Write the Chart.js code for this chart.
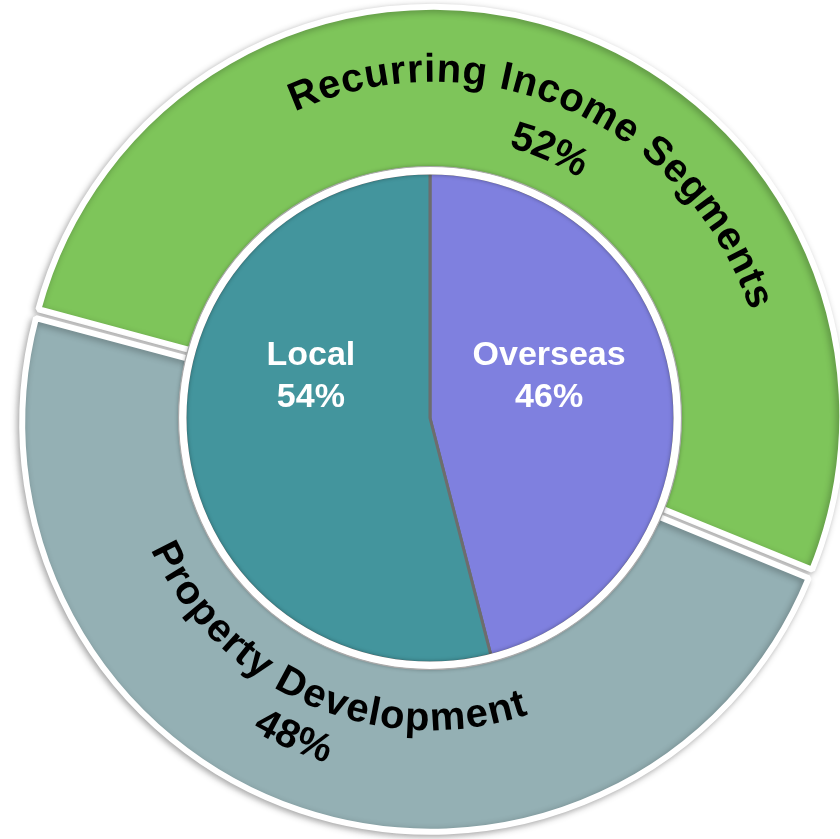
<!DOCTYPE html>
<html>
<head>
<meta charset="utf-8">
<title>Income segments</title>
<script src="https://cdn.jsdelivr.net/npm/chart.js@4.4.1/dist/chart.umd.min.js"></script>
<style>
  html, body { margin: 0; padding: 0; background: #ffffff; }
  #wrap { position: relative; width: 840px; height: 839px; overflow: hidden; }
  #wrap canvas { position: absolute; left: 0; top: 0; }
</style>
</head>
<body>
<div id="wrap">
  <canvas id="outer-chart" width="840" height="839"></canvas>
  <canvas id="inner-chart" width="840" height="839"></canvas>
</div>
<script>
const segmentLabels = ["Recurring Income Segments", "Property Development"];
const segmentValues = [52, 48];
const segmentColors = ["#7ec55a", "#94b0b4"];

const marketLabels = ["Overseas", "Local"];
const marketValues = [46, 54];
const marketColors = ["#7f80df", "#43959d"];

const FONT = '"Liberation Sans", Arial, sans-serif';
const DEG = Math.PI / 180;

function percentOf(values, i) {
  const total = values.reduce((a, b) => a + b, 0);
  return Math.round((values[i] / total) * 100) + "%";
}

// letters laid one by one along a circle; top side reads clockwise, bottom side counter-clockwise
function drawArcText(ctx, text, cx, cy, radius, midAngle, topSide, gap) {
  const chars = [...text];
  const widths = chars.map((ch) => ctx.measureText(ch).width);
  const total = widths.reduce((a, b) => a + b, 0) + gap * (chars.length - 1);
  const dir = topSide ? 1 : -1;
  let angle = midAngle - dir * (total / radius) / 2;

  chars.forEach((ch, i) => {
    angle += dir * (widths[i] / 2) / radius;
    ctx.save();
    ctx.translate(cx + Math.cos(angle) * radius, cy + Math.sin(angle) * radius);
    ctx.rotate(topSide ? angle + Math.PI / 2 : angle - Math.PI / 2);
    ctx.fillText(ch, 0, 0);
    ctx.restore();
    angle += dir * (widths[i] / 2 + gap) / radius;
  });
}

const ringPlugin = {
  id: "ringLabels",
  beforeDatasetsDraw(chart) {
    const { ctx } = chart;
    ctx.save();
    ctx.shadowColor = "rgba(0, 0, 0, 0.3)";
    ctx.shadowBlur = 7;
    ctx.shadowOffsetX = -2;
    ctx.shadowOffsetY = 2;
  },
  afterDatasetsDraw(chart) {
    const { ctx } = chart;
    ctx.restore();

    const meta = chart.getDatasetMeta(0);

    ctx.save();
    ctx.fillStyle = "#000000";
    ctx.font = `bold 40px ${FONT}`;
    ctx.textAlign = "center";
    ctx.textBaseline = "middle";

    meta.data.forEach((arc, i) => {
      const mid = (arc.startAngle + arc.endAngle) / 2;
      const shift = (arc.options.offset || 0) / 4;
      const cx = arc.x + Math.cos(mid) * shift;
      const cy = arc.y + Math.sin(mid) * shift;
      const at = mid + 5 * DEG;
      const r = arc.outerRadius;
      const pct = percentOf(segmentValues, i);

      if (Math.sin(at) < 0) {
        drawArcText(ctx, segmentLabels[i], cx, cy, r - 60, at, true, 1.5);
        drawArcText(ctx, pct, cx, cy, r - 115, at, true, 0);
      } else {
        drawArcText(ctx, segmentLabels[i], cx, cy, r - 109, at, false, 0.5);
        drawArcText(ctx, pct, cx, cy, r - 61, at, false, 0);
      }
    });

    ctx.restore();
  }
};

const piePlugin = {
  id: "pieRim",
  afterDatasetsDraw(chart) {
    const { ctx } = chart;
    const meta = chart.getDatasetMeta(0);
    const first = meta.data[0];
    const cx = first.x;
    const cy = first.y;
    const r = first.outerRadius;

    ctx.save();
    ctx.shadowColor = "rgba(0, 0, 0, 0.35)";
    ctx.shadowBlur = 4;
    ctx.beginPath();
    ctx.arc(cx, cy, r + 2.5, 0, Math.PI * 2);
    ctx.lineWidth = 8;
    ctx.strokeStyle = "#ffffff";
    ctx.stroke();
    ctx.restore();

    ctx.save();
    ctx.beginPath();
    ctx.arc(cx, cy, r + 6.5, 0, Math.PI * 2);
    ctx.lineWidth = 1.2;
    ctx.strokeStyle = "#a9a9a9";
    ctx.stroke();

    ctx.fillStyle = "#ffffff";
    ctx.font = `bold 34px ${FONT}`;
    ctx.textAlign = "center";
    ctx.textBaseline = "alphabetic";

    meta.data.forEach((arc, i) => {
      const mid = (arc.startAngle + arc.endAngle) / 2;
      const x = cx + Math.cos(mid) * r * 0.49;
      ctx.fillText(marketLabels[i], x, cy - 53);
      ctx.fillText(percentOf(marketValues, i), x, cy - 11);
    });

    ctx.restore();
  }
};

const baseOptions = {
  responsive: false,
  animation: false,
  events: [],
  plugins: {
    legend: { display: false },
    tooltip: { enabled: false }
  }
};

new Chart(document.getElementById("outer-chart"), {
  type: "doughnut",
  data: {
    labels: segmentLabels,
    datasets: [
      {
        data: segmentValues,
        backgroundColor: segmentColors,
        borderColor: "#ffffff",
        borderWidth: 6,
        offset: 16
      }
    ]
  },
  options: {
    ...baseOptions,
    layout: { padding: { left: 24, right: 0, top: 0, bottom: 0 } },
    radius: 405,
    cutout: "55%",
    rotation: -75
  },
  plugins: [ringPlugin]
});

new Chart(document.getElementById("inner-chart"), {
  type: "pie",
  data: {
    labels: marketLabels,
    datasets: [
      {
        data: marketValues,
        backgroundColor: marketColors,
        borderColor: "#6d6d6d",
        borderWidth: 3
      }
    ]
  },
  options: {
    ...baseOptions,
    layout: { padding: { left: 20, right: 0, top: 0, bottom: 3 } },
    radius: 245,
    rotation: 0
  },
  plugins: [piePlugin]
});
</script>
</body>
</html>
